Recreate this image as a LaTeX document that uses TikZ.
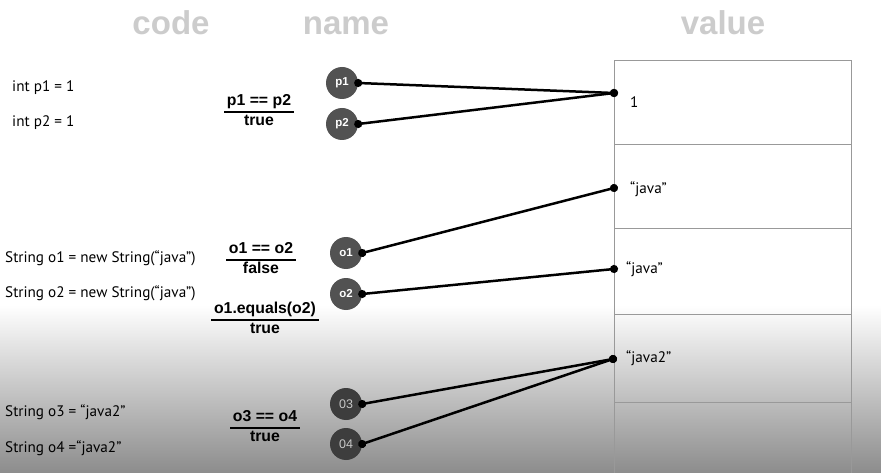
\documentclass[tikz,border=0pt]{standalone}
\usepackage{fontspec}
\setmainfont{PT Sans}
\newfontfamily\headfont{Liberation Sans}
\usetikzlibrary{arrows.meta}

\newcommand{\eqfrac}[2]{{\setlength{\arrayrulewidth}{1.2pt}\renewcommand{\arraystretch}{1.05}%
  \begin{tabular}{@{\,}c@{\,}}#1\\\hline #2\end{tabular}}}

\begin{document}
\begin{tikzpicture}[x=1pt,y=-1pt]
\tikzset{
  header/.style={anchor=base,font=\headfont\bfseries\fontsize{33}{36}\selectfont,text=black!20},
  codeline/.style={anchor=west,inner sep=0pt,font=\fontsize{15.2}{18}\selectfont},
  valtext/.style={anchor=west,inner sep=0pt,font=\fontsize{15.2}{18}\selectfont},
  eqnode/.style={inner sep=0pt,font=\headfont\bfseries\fontsize{15.8}{18}\selectfont},
  refnode/.style={circle,fill=black!68,text=white,minimum size=32pt,inner sep=0pt,font=\headfont\bfseries\fontsize{11.5}{12}\selectfont},
  refdark/.style={refnode,fill=black!76,text=black!22,font=\headfont\fontsize{12.5}{13}\selectfont},
  cell/.style={draw=black!40,line width=1.3pt,minimum width=237pt,anchor=north west,inner sep=0pt},
  pointer/.style={line width=2.5pt,{Circle[length=8pt]}-{Circle[length=8pt]},shorten <=-4pt,shorten >=-4pt}
}
\useasboundingbox (0,0) rectangle (881,473);
\fill[white] (0,0) rectangle (881,473);
\shade[top color=white,bottom color=black!45] (0,305) rectangle (881,473);

% headers
\node[header] (hcode) at (171,35) {code};
\node[header] (hname) at (346,35) {name};
\node[header] (hvalue) at (723,35) {value};

% value column
\node[cell,minimum height=84pt] (c1) at (614,60) {};
\node[cell,minimum height=84pt] (c2) at (614,144) {};
\node[cell,minimum height=86pt] (c3) at (614,228) {};
\node[cell,minimum height=88pt] (c4) at (614,314) {};
\node[cell,minimum height=100pt] (c5) at (614,402) {};
\node[valtext] (val1) at (630,102) {1};
\node[valtext] (val2) at (630,189) {“java”};
\node[valtext] (val3) at (626,269) {“java”};
\node[valtext] (val4) at (626,358) {“java2”};
\coordinate (d1) at (614,93);
\coordinate (d2) at (614,188);
\coordinate (d3) at (614,269);
\coordinate (d4) at (613,359);

% code
\node[codeline] (code1) at (12,88) {int p1 = 1};
\node[codeline] (code2) at (12,123) {int p2 = 1};
\node[codeline] (code3) at (5,258) {String o1 = new String(“java”)};
\node[codeline] (code4) at (5,293) {String o2 = new String(“java”)};
\node[codeline] (code5) at (5,412) {String o3 = “java2”};
\node[codeline] (code6) at (5,448) {String o4 =“java2”};

% comparisons
\node[eqnode] (eq1) at (259,112) {\eqfrac{p1 == p2}{true}};
\node[eqnode] (eq2) at (261,260) {\eqfrac{o1 == o2}{false}};
\node[eqnode] (eq3) at (265,320) {\eqfrac{o1.equals(o2)}{true}};
\node[eqnode] (eq4) at (265,428) {\eqfrac{o3 == o4}{true}};

% names
\node[refnode] (p1) at (342,83) {p1};
\node[refnode] (p2) at (342,124) {p2};
\node[refnode] (o1) at (346,253) {o1};
\node[refnode] (o2) at (346,294) {o2};
\node[refdark] (o3) at (346,404) {03};
\node[refdark] (o4) at (346,444) {04};

\draw[pointer] (p1.east) -- (d1);
\draw[pointer] (p2.east) -- (d1);
\draw[pointer] (o1.east) -- (d2);
\draw[pointer] (o2.east) -- (d3);
\draw[pointer] (o3.east) -- (d4);
\draw[pointer] (o4.east) -- (d4);
\end{tikzpicture}
\end{document}
